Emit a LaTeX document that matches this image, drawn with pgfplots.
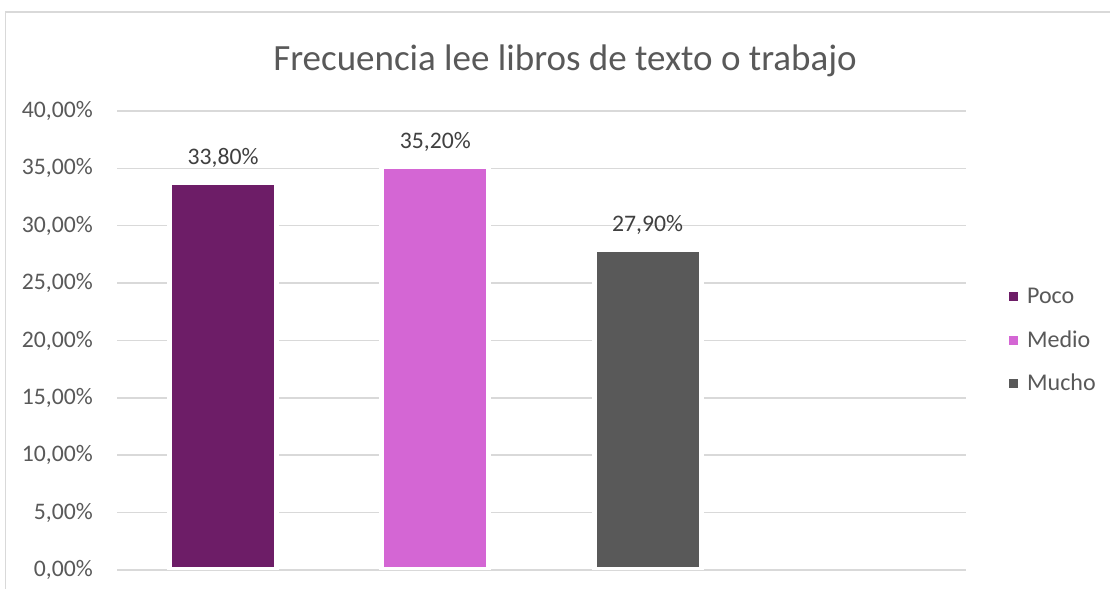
\documentclass[border=0pt]{standalone}
\usepackage{pgfplots}
\pgfplotsset{compat=1.18}
\usepackage{fontspec}
\setmainfont{Carlito}
\definecolor{poco}{HTML}{6D1D67}
\definecolor{medio}{HTML}{D466D4}
\definecolor{mucho}{HTML}{595959}
\definecolor{gridc}{HTML}{D9D9D9}
\definecolor{txt}{HTML}{595959}
\definecolor{lbl}{HTML}{404040}
\begin{document}
\begin{tikzpicture}
\useasboundingbox (0,0) rectangle (1110bp,589bp);
\fill[white] (0,0) rectangle (1110bp,589bp);
\draw[gridc, line width=1.5bp] (5.5bp,0) -- (5.5bp,577bp) -- (1110bp,577bp);
\begin{axis}[
  at={(117bp,19bp)}, anchor=south west,
  scale only axis, width=849bp, height=459bp,
  ybar, bar shift=0pt, bar width=107bp,
  xmin=-0.5, xmax=3.5, ymin=0, ymax=40,
  xtick=\empty,
  ytick={0,5,...,40},
  ymajorgrids, grid style={gridc, line width=1.5bp},
  axis line style={draw=none}, tick style={draw=none},
  /pgf/number format/assume math mode=true,
  yticklabel={\pgfmathprintnumber[fixed,fixed zerofill,precision=2,use comma]{\tick}\%},
  yticklabel style={font=\fontsize{23.7bp}{28bp}\selectfont, text=txt, inner sep=0pt, anchor=east, xshift=-24bp},
  title={Frecuencia lee libros de texto o trabajo},
  title style={at={(rel axis cs:0.5277,1.0763)}, anchor=base, inner sep=0pt, font=\fontsize{37bp}{42bp}\selectfont, text=txt},
  nodes near coords={\pgfmathprintnumber[fixed,fixed zerofill,precision=2,use comma]{\pgfplotspointmeta}\%},
  nodes near coords style={font=\fontsize{23.7bp}{28bp}\selectfont, text=lbl, anchor=base, inner sep=0pt, yshift=18bp},
  legend image code/.code={\fill[#1, draw=none] (0bp,-3bp) rectangle (9bp,6bp);},
  legend style={draw=none, fill=none, inner sep=0pt, at={(rel axis cs:1.0506,0.4978)}, anchor=west,
    font=\fontsize{24bp}{28bp}\selectfont, text=txt, column sep=9bp, row sep=24.5bp,
    nodes={inner sep=0pt, text height=15bp, text depth=4bp}},
  legend cell align=left,
]
\addplot[fill=poco, draw=white, line width=5bp] coordinates {(0,33.8)};
\addlegendentry{Poco}
\addplot[fill=medio, draw=white, line width=5bp] coordinates {(1,35.2)};
\addlegendentry{Medio}
\addplot[fill=mucho, draw=white, line width=5bp] coordinates {(2,27.9)};
\addlegendentry{Mucho}
\end{axis}
\end{tikzpicture}
\end{document}
